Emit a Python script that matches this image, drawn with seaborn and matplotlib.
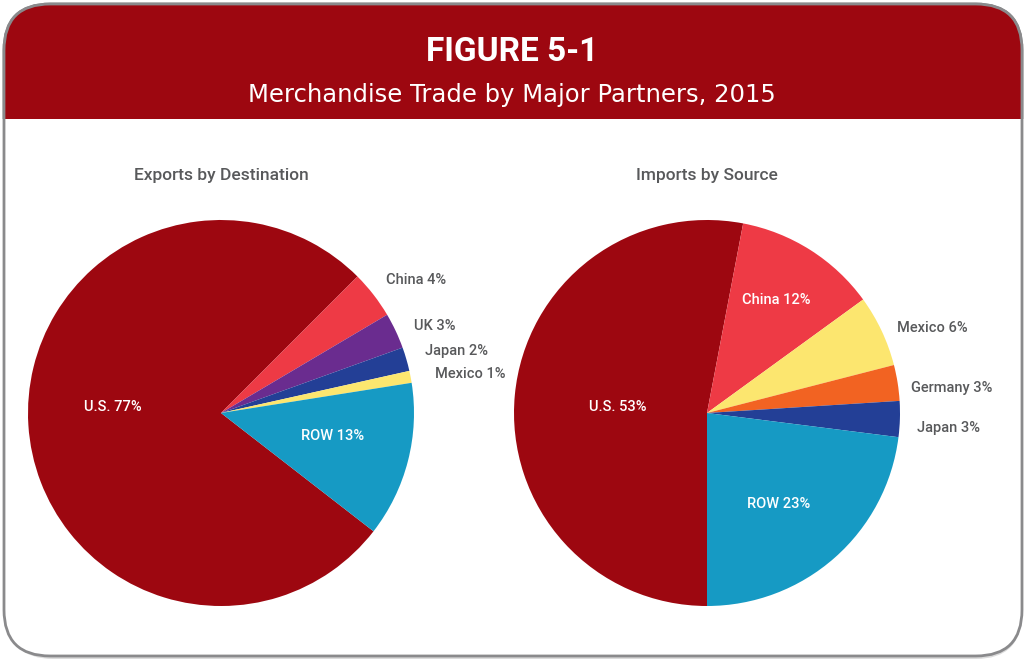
import matplotlib
matplotlib.use("Agg")
import matplotlib.pyplot as plt
import seaborn as sns
from matplotlib.patches import FancyBboxPatch, Rectangle

sns.set_theme(style="white")
plt.rcParams["font.family"] = ["Roboto", "DejaVu Sans"]

# data
export_partners = ["U.S.", "China", "UK", "Japan", "Mexico", "ROW"]
export_shares = [77, 4, 3, 2, 1, 13]
import_partners = ["U.S.", "China", "Mexico", "Germany", "Japan", "ROW"]
import_shares = [53, 12, 6, 3, 3, 23]

partner_colors = {
    "U.S.": "#9d0710",
    "China": "#ee3a45",
    "UK": "#6a2c8f",
    "Japan": "#233f96",
    "Mexico": "#fce66f",
    "Germany": "#f26322",
    "ROW": "#169ac4",
}

# label placement (radius units from pie centre) and whether label sits inside
export_label_pos = [(-0.56, 0.03), (1.01, 0.69), (1.11, 0.45), (1.22, 0.32), (1.29, 0.20), (0.58, -0.12)]
export_inside = [True, False, False, False, False, True]
import_label_pos = [(-0.46, 0.03), (0.36, 0.585), (1.17, 0.44), (1.27, 0.13), (1.25, -0.08), (0.37, -0.47)]
import_inside = [True, True, False, False, False, True]

W, H = 1027, 660
fig = plt.figure(figsize=(W / 100, H / 100), dpi=100, facecolor="white")

# rounded frame, soft shadow and red header band
box = dict(boxstyle="round,pad=0,rounding_size=0.045", transform=fig.transFigure,
           mutation_aspect=W / H)
shadow = FancyBboxPatch((7 / W, 1 / H), 1015 / W, 652 / H, facecolor="#dcdcdc",
                        edgecolor="none", zorder=0, **box)
frame = FancyBboxPatch((4 / W, 4 / H), 1018 / W, 652 / H, facecolor="white",
                       edgecolor="#8a8a8c", linewidth=2, zorder=1, **box)
header = FancyBboxPatch((4 / W, 4 / H), 1018 / W, 652 / H, facecolor="#9d0710",
                        edgecolor="#8a8a8c", linewidth=2, zorder=2, **box)
for patch in (shadow, frame, header):
    fig.patches.append(patch)
header.set_clip_path(Rectangle((0, (H - 119) / H), 1, 119 / H, transform=fig.transFigure))

fig.text(512 / W, 1 - 52 / H, "FIGURE 5-1", color="white", fontsize=24,
         fontweight="bold", ha="center", va="center", zorder=3)
fig.text(512 / W, 1 - 95 / H, "Merchandise Trade by Major Partners, 2015", color="white",
         fontsize=17.5, family=["DejaVu Sans"], ha="center", va="center", zorder=3)


def draw_pie(ax, partners, shares, start, label_pos, inside, title):
    colors = [partner_colors[p] for p in partners]
    ax.pie(shares, colors=colors, startangle=start, counterclock=False, radius=1,
           wedgeprops=dict(linewidth=0))
    for p, s, (x, y), ins in zip(partners, shares, label_pos, inside):
        ax.text(x, y, f"{p} {s}%", ha="center", va="center", fontsize=10.5,
                fontweight="medium", color="white" if ins else "#58595b")
    ax.set_xlim(-1, 1)
    ax.set_ylim(-1, 1)
    ax.set_aspect("equal")
    ax.axis("off")
    ax.text(0, 1.23, title, ha="center", va="center", fontsize=12.5,
            fontweight="medium", color="#58595b")


ax_exp = fig.add_axes([28 / W, 54 / H, 386 / W, 386 / H], zorder=4)
ax_imp = fig.add_axes([514 / W, 54 / H, 386 / W, 386 / H], zorder=4)
for ax in (ax_exp, ax_imp):
    ax.patch.set_alpha(0)

draw_pie(ax_exp, export_partners, export_shares, 322.2,
         export_label_pos, export_inside, "Exports by Destination")
draw_pie(ax_imp, import_partners, import_shares, 270,
         import_label_pos, import_inside, "Imports by Source")

fig.savefig("out.png", dpi=100, facecolor="white")
